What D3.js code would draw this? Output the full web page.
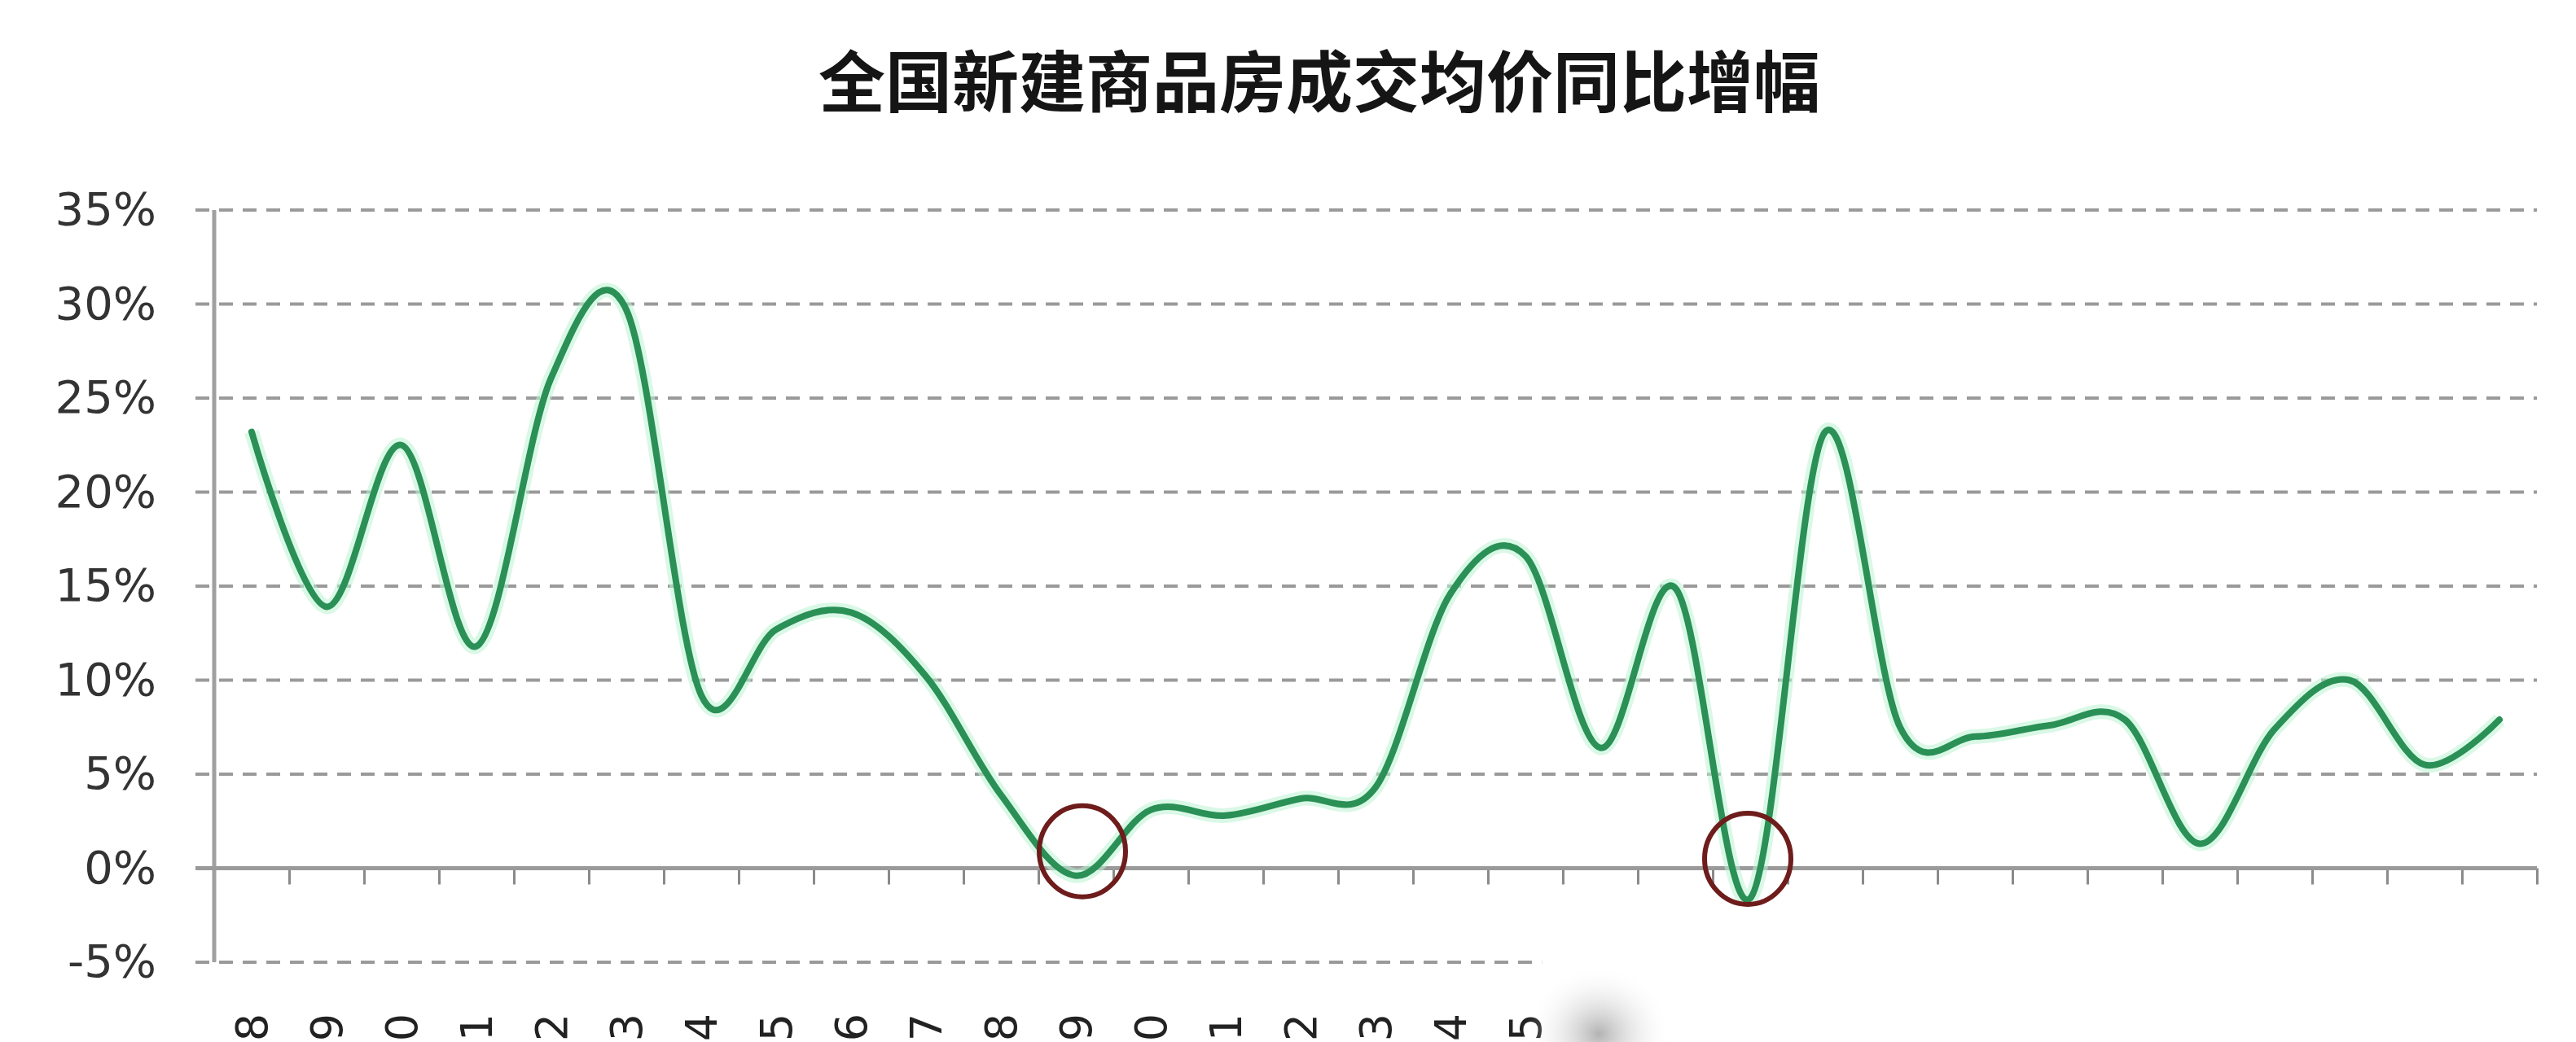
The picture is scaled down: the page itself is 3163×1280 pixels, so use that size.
<!DOCTYPE html>
<html>
<head>
<meta charset="utf-8">
<script src="https://cdn.jsdelivr.net/npm/d3@7"></script>
<style>
  html, body { margin: 0; padding: 0; background: #ffffff; }
  svg { display: block; }
</style>
</head>
<body>
<svg id="chart" width="3163" height="1280"></svg>
<script>
// ---------------- data ----------------
const title = "全国新建商品房成交均价同比增幅";
const years = ["1988","1989","1990","1991","1992","1993","1994","1995","1996","1997",
               "1998","1999","2000","2001","2002","2003","2004","2005","2006","2007",
               "2008","2009","2010","2011","2012","2013","2014","2015","2016","2017","2018"];
const growth = [23.2, 13.9, 22.5, 11.8, 26.1, 29.7, 9.2, 12.7, 13.6, 10.2,
                3.9, -0.4, 3.1, 2.8, 3.7, 4.3, 14.6, 16.6, 6.4, 14.9,
                -1.6, 23.2, 7.5, 7.0, 7.6, 7.9, 1.3, 7.4, 10.0, 5.5, 7.9];
const yTicks = [-5, 0, 5, 10, 15, 20, 25, 30, 35];
const highlighted = ["1999", "2008"];   // circled points
const highlightCenter = [0.9, 0.5];     // value at circle centre
const visibleLabelCount = 18;           // the rest is covered in the source picture

// ---------------- layout ----------------
const W = 3163, H = 1280;
const plotLeft = 263, plotRight = 3115, plotTop = 258, plotBottom = 1182;

const svg = d3.select("#chart");

const x = d3.scaleBand().domain(years).range([plotLeft, plotRight]).padding(0);
const xEdge = d3.scaleLinear().domain([0, years.length]).range([plotLeft, plotRight]);
const y = d3.scaleLinear().domain([-5, 35]).range([plotBottom, plotTop]);

// title
svg.append("text")
  .attr("x", 1620).attr("y", 131)
  .attr("text-anchor", "middle")
  .attr("font-family", "'Noto Sans CJK SC', sans-serif")
  .attr("font-weight", 700)
  .attr("font-size", 82)
  .attr("fill", "#151515")
  .text(title);

// gridlines (dashed) except 0
const gridG = svg.append("g");
gridG.selectAll("line")
  .data(yTicks.filter(d => d !== 0))
  .join("line")
  .attr("x1", plotLeft - 23)
  .attr("x2", plotRight)
  .attr("y1", d => y(d)).attr("y2", d => y(d))
  .attr("stroke", "#9a9a9a")
  .attr("stroke-width", 4)
  .attr("stroke-dasharray", "17 12");

// y axis labels
const yAxis = d3.axisLeft(y).tickValues(yTicks).tickSize(0).tickPadding(71)
  .tickFormat(d => d + "%");
const yG = svg.append("g").attr("transform", `translate(${plotLeft},0)`).call(yAxis);
yG.select(".domain").remove();
yG.selectAll("text")
  .attr("font-family", "'DejaVu Sans', Verdana, sans-serif")
  .attr("font-size", 56)
  .attr("fill", "#333");

// y axis line
svg.append("line")
  .attr("x1", plotLeft).attr("x2", plotLeft)
  .attr("y1", y(35)).attr("y2", y(-5))
  .attr("stroke", "#a0a0a0").attr("stroke-width", 5);

// zero axis with tick marks at category boundaries
const xTickAxis = d3.axisBottom(xEdge)
  .tickValues(d3.range(1, years.length + 1))
  .tickSize(20).tickFormat("");
const xTickG = svg.append("g").attr("transform", `translate(0,${y(0)})`).call(xTickAxis);
xTickG.select(".domain").remove();
xTickG.selectAll("line").attr("stroke", "#8a8a8a").attr("stroke-width", 3);
svg.append("line")
  .attr("x1", plotLeft - 23).attr("x2", plotRight)
  .attr("y1", y(0)).attr("y2", y(0))
  .attr("stroke", "#9a9a9a").attr("stroke-width", 5);

// line
const line = d3.line()
  .x((d, i) => x(years[i]) + x.bandwidth() / 2)
  .y(d => y(d))
  .curve(d3.curveCardinal.tension(0));

svg.append("path")
  .datum(growth)
  .attr("d", line)
  .attr("fill", "none")
  .attr("stroke", "#b9f3d2")
  .attr("stroke-width", 18)
  .attr("stroke-opacity", 0.55)
  .attr("stroke-linejoin", "round");
svg.append("path")
  .datum(growth)
  .attr("d", line)
  .attr("fill", "none")
  .attr("stroke", "#2a9056")
  .attr("stroke-width", 8)
  .attr("stroke-linejoin", "round")
  .attr("stroke-linecap", "round");

// highlight circles
const circleShift = [8, -3];
svg.append("g").selectAll("ellipse")
  .data(highlighted)
  .join("ellipse")
  .attr("cx", (d, i) => x(d) + x.bandwidth() / 2 + circleShift[i])
  .attr("cy", (d, i) => y(highlightCenter[i]))
  .attr("rx", 53).attr("ry", 56)
  .attr("fill", "none")
  .attr("stroke", "#6e1c1c")
  .attr("stroke-width", 6);

// category labels (rotated, cut by picture bottom as in the source)
const xAxis = d3.axisBottom(x).tickSize(0).tickFormat((d, i) => i < visibleLabelCount ? d : "");
const xG = svg.append("g").attr("transform", `translate(0,1245)`).call(xAxis);
xG.select(".domain").remove();
xG.selectAll("text")
  .attr("font-family", "'DejaVu Sans', Verdana, sans-serif")
  .attr("font-size", 54)
  .attr("fill", "#222")
  .attr("text-anchor", "end")
  .attr("transform", "rotate(-90)")
  .attr("x", 0).attr("y", 0).attr("dy", "0.36em");

// white cover + soft shadow as in source picture
const coverX = x(years[visibleLabelCount - 1]) + x.bandwidth() * 0.72;
svg.append("rect")
  .attr("x", coverX).attr("y", y(-5) - 30)
  .attr("width", W - coverX).attr("height", H - y(-5) + 30)
  .attr("fill", "#ffffff");
const defs = svg.append("defs");
const rg = defs.append("radialGradient").attr("id", "shadow");
rg.append("stop").attr("offset", "0%").attr("stop-color", "#9a9a9a").attr("stop-opacity", 0.75);
rg.append("stop").attr("offset", "100%").attr("stop-color", "#ffffff").attr("stop-opacity", 0);
svg.append("ellipse")
  .attr("cx", coverX + 70).attr("cy", H - 10)
  .attr("rx", 90).attr("ry", 85)
  .attr("fill", "url(#shadow)");
</script>
</body>
</html>
